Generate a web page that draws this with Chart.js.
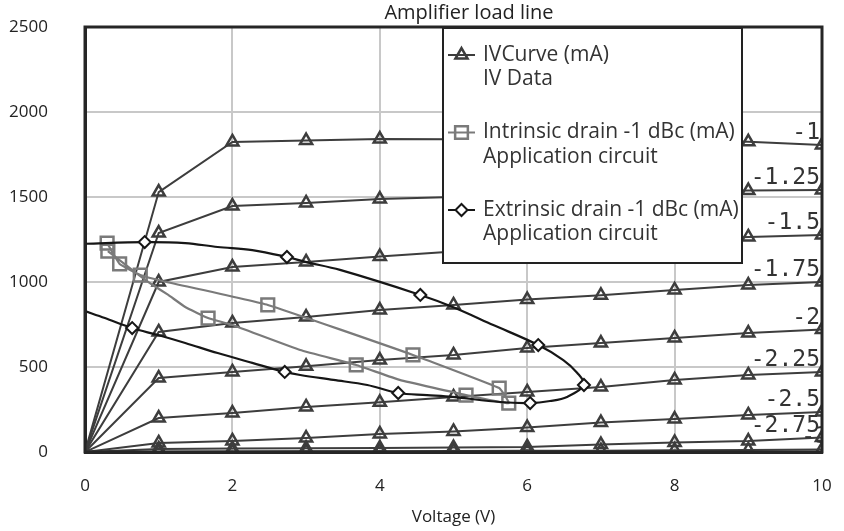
<!DOCTYPE html>
<html>
<head>
<meta charset="utf-8">
<title>Amplifier load line</title>
<script src="https://cdn.jsdelivr.net/npm/chart.js@4.4.1/dist/chart.umd.min.js"></script>
<style>
  html, body { margin: 0; padding: 0; background: #fff; }
</style>
</head>
<body>
<canvas id="loadLine" width="844" height="531"></canvas>
<script>
// drain voltage steps of the IV sweep (V)
const voltages = [0, 1, 2, 3, 4, 5, 6, 7, 8, 9, 10];

// one IV curve per gate voltage (mA)
const gateLabels = ['-1', '-1.25', '-1.5', '-1.75', '-2', '-2.25', '-2.5', '-2.75', '-3'];
const ivVg100 = [0, 1529, 1824, 1832, 1841, 1840, 1840, 1838, 1835, 1825, 1806];
const ivVg125 = [0, 1288, 1447, 1465, 1488, 1500, 1510, 1520, 1530, 1538, 1541];
const ivVg150 = [0, 1000, 1088, 1118, 1150, 1180, 1205, 1225, 1245, 1265, 1276];
const ivVg175 = [0, 706, 759, 794, 835, 865, 897, 922, 953, 982, 1000];
const ivVg200 = [0, 435, 471, 504, 541, 571, 612, 641, 671, 700, 720];
const ivVg225 = [0, 200, 229, 265, 292, 324, 353, 382, 424, 453, 471];
const ivVg250 = [0, 53, 65, 82, 106, 121, 144, 173, 194, 218, 235];
const ivVg275 = [0, 18, 20, 22, 24, 26, 30, 44, 56, 64, 85];
const ivVg300 = [0, 2, 3, 4, 5, 6, 7, 8, 10, 12, 15];
const ivCurves = [ivVg100, ivVg125, ivVg150, ivVg175, ivVg200, ivVg225, ivVg250, ivVg275, ivVg300];

// intrinsic drain load line at -1 dBc
const intV = [0.30, 0.47, 0.75, 1.05, 2.48, 4.45, 5.62, 5.75, 5.17, 4.27, 3.68, 2.92, 2.00, 1.67, 1.36, 1.13, 0.91, 0.75, 0.31];
const intI = [1229, 1106, 1041, 1006, 865, 571, 376, 288, 335, 424, 512, 600, 747, 788, 853, 924, 985, 1035, 1182];
const intMarks = [0, 1, 2, 4, 5, 6, 7, 8, 10, 13, 18];

// extrinsic drain load line at -1 dBc
const extV = [0, 0.81, 1.36, 1.80, 2.27, 2.74, 2.99, 3.46, 4.55, 4.99, 5.54, 6.15, 6.49, 6.68, 6.77,
  6.54, 6.31, 6.04, 5.63, 4.99, 4.64, 4.25, 3.83, 3.37, 2.92, 2.71, 2.27, 1.80, 1.36, 0.99, 0.64, 0.27, 0];
const extI = [1225, 1235, 1229, 1206, 1188, 1147, 1118, 1071, 924, 853, 747, 629, 541, 465, 394,
  324, 300, 288, 294, 324, 335, 347, 394, 424, 453, 471, 524, 582, 641, 688, 729, 788, 829];
const extMarks = [1, 5, 8, 11, 14, 17, 21, 25, 30];

const legendLines = [
  ['IVCurve (mA)', 'IV Data'],
  ['Intrinsic drain -1 dBc (mA)', 'Application circuit'],
  ['Extrinsic drain -1 dBc (mA)', 'Application circuit']
];

const ivColor = '#3d3d3d';
const intColor = '#7a7a7a';
const extColor = '#161616';
const tagNudge = [0, 0, 0, 0, 0, 0, 0, 0, 9];

function pts(xs, ys) {
  return xs.map((x, i) => ({ x: x, y: ys[i] }));
}

const datasets = [];

datasets.push({
  label: legendLines[2][0],
  data: pts(extV, extI),
  borderColor: extColor,
  borderWidth: 2.2,
  tension: 0.35,
  pointStyle: 'rectRot',
  pointRadius: ctx => extMarks.includes(ctx.dataIndex) ? 6 : 0,
  pointBorderWidth: 2,
  pointBorderColor: extColor,
  pointBackgroundColor: '#fff',
  clip: 0,
  order: 0
});

datasets.push({
  label: legendLines[1][0],
  data: pts(intV, intI),
  borderColor: intColor,
  borderWidth: 2.2,
  tension: 0.1,
  pointStyle: 'rect',
  pointRadius: ctx => intMarks.includes(ctx.dataIndex) ? 9 : 0,
  pointBorderWidth: 2.5,
  pointBorderColor: intColor,
  pointBackgroundColor: 'rgba(0,0,0,0)',
  clip: 0,
  order: 1
});

ivCurves.forEach((curve, i) => {
  datasets.push({
    label: i === 0 ? legendLines[0][0] : 'Vg ' + gateLabels[i],
    data: pts(voltages, curve),
    borderColor: ivColor,
    borderWidth: 2,
    tension: 0,
    pointStyle: 'triangle',
    pointRadius: 7,
    pointBorderWidth: 2.5,
    pointBorderColor: ivColor,
    pointBackgroundColor: 'rgba(0,0,0,0)',
    clip: 0,
    order: 2
  });
});

function mark(ctx, style, x, y, r) {
  ctx.beginPath();
  if (style === 'triangle') {
    for (let k = 0; k < 3; k++) {
      const a = k * 2 * Math.PI / 3;
      const px = x + Math.sin(a) * r, py = y - Math.cos(a) * r;
      k === 0 ? ctx.moveTo(px, py) : ctx.lineTo(px, py);
    }
  } else if (style === 'rect') {
    const s = Math.SQRT1_2 * r;
    ctx.rect(x - s, y - s, 2 * s, 2 * s);
  } else {
    ctx.moveTo(x, y - r); ctx.lineTo(x + r, y); ctx.lineTo(x, y + r); ctx.lineTo(x - r, y);
  }
  ctx.closePath();
}

const overlay = {
  id: 'overlay',
  afterDatasetsDraw(chart) {
    const { ctx, chartArea: a, scales: { y } } = chart;

    // gate voltage tags at the right end of every IV curve
    ctx.save();
    ctx.beginPath();
    ctx.rect(a.left, a.top, a.right - a.left, a.bottom - a.top);
    ctx.clip();
    ctx.font = '23px "DejaVu Sans Mono"';
    ctx.fillStyle = '#333';
    ctx.textAlign = 'right';
    ctx.textBaseline = 'middle';
    ivCurves.forEach((c, i) => {
      const py = y.getPixelForValue(c[c.length - 1]) - 12;
      ctx.fillText(gateLabels[i], a.right - 2 + tagNudge[i], py);
    });
    ctx.restore();

    // legend box sitting inside the plot
    const bx = a.left + 358, by = a.top + 1, bw = 299, bh = 235;
    ctx.save();
    ctx.fillStyle = '#fff';
    ctx.fillRect(bx, by, bw, bh);
    ctx.lineWidth = 2;
    ctx.strokeStyle = '#222';
    ctx.strokeRect(bx, by, bw, bh);

    const styles = [
      { shape: 'triangle', color: ivColor, r: 7, fill: null, lw: 2.5 },
      { shape: 'rect', color: intColor, r: 9, fill: null, lw: 2.5 },
      { shape: 'rectRot', color: extColor, r: 6, fill: '#fff', lw: 2 }
    ];
    ctx.font = '21px "Open Sans"';
    ctx.textAlign = 'left';
    ctx.textBaseline = 'middle';
    legendLines.forEach((lines, i) => {
      const st = styles[i];
      const cy = by + 27 + i * 77.5;
      ctx.strokeStyle = st.color;
      ctx.lineWidth = 2;
      ctx.beginPath();
      ctx.moveTo(bx + 5, cy);
      ctx.lineTo(bx + 32, cy);
      ctx.stroke();
      mark(ctx, st.shape, bx + 18.5, cy, st.r);
      if (st.fill) { ctx.fillStyle = st.fill; ctx.fill(); }
      ctx.lineWidth = st.lw;
      ctx.stroke();
      ctx.fillStyle = '#333';
      lines.forEach((t, j) => ctx.fillText(t, bx + 40, cy + j * 24.5));
    });
    ctx.restore();

    // plot frame
    ctx.save();
    ctx.lineWidth = 3;
    ctx.strokeStyle = '#262626';
    ctx.strokeRect(a.left, a.top, a.right - a.left, a.bottom - a.top);
    ctx.restore();
  },
  afterDraw(chart) {
    const { ctx } = chart;
    ctx.save();
    ctx.font = '20px "Open Sans"';
    ctx.fillStyle = '#222';
    ctx.textAlign = 'center';
    ctx.textBaseline = 'middle';
    ctx.fillText('Amplifier load line', 469, 13);
    ctx.restore();
  }
};

new Chart(document.getElementById('loadLine'), {
  type: 'line',
  data: { datasets: datasets },
  options: {
    responsive: false,
    animation: false,
    events: [],
    layout: { padding: { left: 0, right: 22, top: 27, bottom: 0 } },
    plugins: {
      legend: { display: false },
      tooltip: { enabled: false }
    },
    scales: {
      x: {
        type: 'linear',
        min: 0,
        max: 10,
        afterFit: s => { s.height = 79; s.paddingLeft = 0; s.paddingRight = 0; },
        ticks: { stepSize: 2, padding: 24, color: '#222', font: { family: 'Open Sans', size: 17 } },
        grid: { color: '#c8c8c8', lineWidth: 2, drawTicks: false },
        border: { color: '#262626', width: 3 },
        title: { display: true, text: 'Voltage (V)', color: '#222', padding: { top: 0, bottom: 4 }, font: { family: 'Open Sans', size: 17 } }
      },
      y: {
        type: 'linear',
        min: 0,
        max: 2500,
        afterFit: s => { s.width = 85; s.paddingTop = 0; s.paddingBottom = 0; },
        ticks: { stepSize: 500, padding: 37, color: '#222', font: { family: 'Open Sans', size: 17 }, callback: v => String(v) },
        grid: { color: '#c8c8c8', lineWidth: 2, drawTicks: false },
        border: { color: '#262626', width: 3 }
      }
    }
  },
  plugins: [overlay]
});
</script>
</body>
</html>
